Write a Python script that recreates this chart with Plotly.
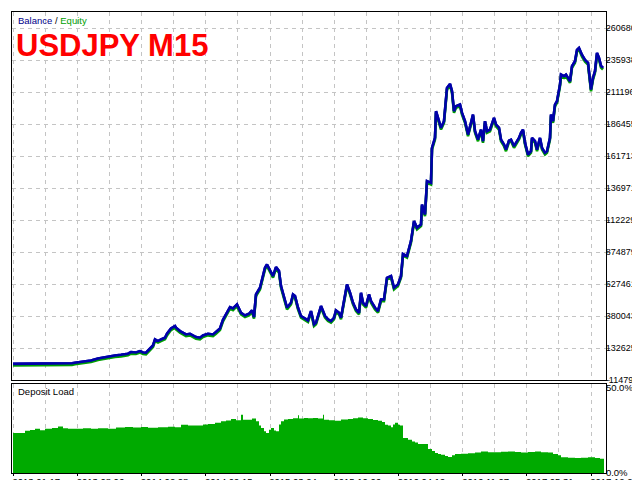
import plotly.graph_objects as go

# ---------------- data ----------------
trade_no = [5, 20, 35, 50, 64, 67, 77, 83, 90, 97, 103, 107, 113, 120, 123, 128, 132, 135, 138, 142,
            145, 147, 150, 153, 157, 159, 163, 167, 168, 172, 175, 178, 182, 185, 188, 192, 195, 200, 205, 208,
            212, 215, 218, 222, 225, 229, 233, 237, 241, 244, 246, 248, 252, 254, 257, 259, 262, 265, 268, 271,
            273, 276, 279, 283, 285, 287, 290, 293, 297, 300, 303, 306, 308, 310, 313, 317, 320, 323, 326, 328,
            331, 333, 336, 339, 342, 345, 348, 351, 353, 355, 358, 361, 363, 367, 370, 373, 376, 379, 383, 386,
            390, 393, 395, 399, 403, 406, 409, 413, 414, 417, 419, 423, 424, 427, 428, 431, 433, 436, 437, 439,
            442, 444, 446, 448, 452, 454, 457, 460, 463, 465, 467, 470, 473, 475, 477, 479, 482, 484, 486, 488,
            491, 493, 496, 498, 501, 503, 506, 508, 511, 513, 515, 517, 520, 523, 524, 527, 529, 532, 534, 537,
            539, 542, 543, 545, 547, 549, 552, 553, 556, 558, 562, 564, 567, 569, 571, 574, 577, 580, 583, 585,
            587, 589, 591, 593, 595]
balance = [10000, 10000, 10500, 11000, 15000, 19000, 26700, 36700, 52200, 63000, 67700, 75400, 80800, 88600,
           101700, 98600, 109400, 98600, 96300, 127200, 152700, 199100, 186700, 199100, 212300, 243200, 284200,
           302700, 289600, 264100, 250900, 237800, 243200, 233100, 217700, 212300, 230100, 243200, 237800, 256300,
           284000, 351000, 392400, 449600, 438800, 469700, 405600, 384700, 397800, 423300, 372300, 547000, 598900,
           663000, 753500, 779000, 728000, 689300, 758900, 728000, 612000, 534700, 444200, 482900, 547000, 534700,
           444200, 380000, 361500, 346000, 418700, 315100, 328200, 387800, 457400, 380000, 353800, 341400, 366900,
           423300, 405600, 366900, 508400, 624400, 560200, 482900, 431100, 405600, 560200, 482900, 457400, 547000,
           496000, 444200, 418700, 508400, 508400, 676200, 689300, 598900, 624400, 689300, 860000, 843900, 960000,
           1114600, 1063000, 1088300, 1243000, 1165600, 1423800, 1410600, 1681200, 1758600, 1965000, 1887700,
           1835900, 1887700, 1965000, 2145200, 2176100, 2119700, 1965000, 2003700, 2016100, 1952000, 1887700,
           1784300, 1874800, 1938600, 1810300, 1745200, 1822700, 1733000, 1887700, 1810300, 1822700, 1874800,
           1913300, 1861400, 1835900, 1745200, 1706800, 1668100, 1737700, 1745200, 1694400, 1720000, 1758600,
           1797300, 1822700, 1720000, 1629600, 1655800, 1758600, 1733000, 1668100, 1758600, 1681200, 1642600,
           1655800, 1758600, 1938600, 1887700, 2016100, 2042400, 2170800, 2248100, 2235600, 2248100, 2197000,
           2313000, 2351600, 2439000, 2454400, 2400300, 2361600, 2338400, 2132100, 2222600, 2274400, 2416200,
           2377500, 2315700, 2300300]
equity = list(balance)

load_trade_no = [5, 12, 17, 22, 27, 32, 37, 44, 50, 55, 60, 67, 75, 83, 90, 100, 108, 117, 125, 133, 140,
                 150, 160, 167, 173, 180, 187, 195, 200, 207, 213, 218, 223, 228, 233, 235, 240, 244, 248, 251,
                 253, 256, 258, 261, 263, 266, 268, 271, 273, 276, 280, 285, 290, 291, 296, 300, 305, 310, 315,
                 316, 321, 327, 333, 340, 345, 350, 355, 360, 365, 370, 374, 377, 380, 383, 385, 387, 390, 392,
                 395, 400, 404, 407, 410, 418, 420, 424, 427, 430, 433, 437, 440, 444, 447, 453, 460, 467, 473,
                 480, 487, 493, 500, 507, 513, 520, 527, 533, 540, 545, 550, 553, 560, 567, 573, 580, 587, 592, 596]
deposit_load = [23.5, 23.5, 24.9, 25.3, 26.0, 25.2, 26.0, 26.5, 27.4, 26.3, 26.0, 26.0, 26.3, 26.0, 26.4,
                26.0, 26.8, 27.0, 26.8, 27.0, 26.6, 26.9, 27.2, 26.9, 28.4, 28.0, 28.0, 28.5, 28.8, 29.5,
                30.4, 30.9, 31.8, 31.0, 34.3, 31.4, 31.4, 32.0, 30.4, 28.0, 26.5, 24.5, 23.5, 25.5, 26.5,
                25.0, 24.5, 28.5, 30.4, 31.5, 31.8, 32.2, 34.0, 32.0, 32.4, 32.2, 32.4, 32.0, 34.3, 31.4,
                31.0, 30.8, 31.5, 31.8, 32.2, 32.7, 32.2, 31.8, 31.2, 30.8, 30.0, 28.4, 28.0, 26.9, 28.5,
                29.5, 28.4, 28.0, 20.6, 19.6, 18.6, 18.0, 17.1, 17.1, 14.1, 13.0, 11.8, 11.2, 10.8, 10.0,
                9.4, 10.5, 11.2, 11.4, 11.6, 12.0, 12.7, 12.2, 12.2, 12.5, 12.7, 12.3, 12.0, 12.4, 12.7,
                12.2, 12.0, 11.2, 10.4, 9.2, 9.0, 8.8, 9.0, 9.2, 8.8, 8.4, 8.4]

date_trade_no = [5.2, 69.4, 133.6, 197.8, 262.0, 326.2, 390.4, 454.6, 518.8, 583.0]
date_labels = ["2013.01.17", "2013.08.06", "2014.02.28", "2014.09.15", "2015.03.24",
               "2015.10.06", "2016.04.19", "2016.11.07", "2017.05.31", "2017.12.27"]
balance_ticks = [-114793, 132625, 380043, 627461, 874879, 1122297, 1369715,
                 1617133, 1864551, 2111969, 2359387, 2606805]
load_ticks = [0, 50]
load_tick_labels = ["0.0%", "50.0%"]

# ---------------- style ----------------
BLUE = "#0000AA"
GREEN = "#00A000"
FILL = "#00AA00"
GRID = "#C4C4C4"
FONT = "Liberation Sans"

y_min, y_max = -114793, 2732800
px_per_val = 32 / 247418.0
eq_shift = 1.6 / px_per_val

fig = go.Figure()
# base balance trace (anchors the main subplot)
fig.add_trace(go.Scatter(x=trade_no, y=balance, mode="lines", line=dict(color=BLUE, width=2.6),
                         xaxis="x", yaxis="y", hoverinfo="skip"))
# equity drawn slightly below the balance line
fig.add_trace(go.Scatter(x=trade_no, y=equity, mode="lines", line=dict(color=GREEN, width=2.6),
                         xaxis="x", yaxis="y3", hoverinfo="skip"))
# balance on top
fig.add_trace(go.Scatter(x=trade_no, y=balance, mode="lines", line=dict(color=BLUE, width=2.6),
                         xaxis="x", yaxis="y4"))
fig.add_trace(go.Scatter(x=load_trade_no, y=deposit_load, mode="lines", line=dict(color=FILL, width=0, shape="hv"),
                         fill="tozeroy", fillcolor=FILL, xaxis="x2", yaxis="y2"))

xcommon = dict(range=[4, 598], showline=True, linecolor="black", linewidth=1, mirror=True,
               tickmode="array", tickvals=date_trade_no, showgrid=True, gridcolor=GRID,
               griddash="4px,4px", gridwidth=1, zeroline=False, automargin=False,
               minor=dict(tick0=37.3, dtick=64.2, showgrid=True, gridcolor=GRID,
                          griddash="4px,4px", gridwidth=1))

fig.update_layout(
    width=640, height=480,
    margin=dict(l=4, r=42, t=4, b=15),
    paper_bgcolor="white", plot_bgcolor="white",
    showlegend=False,
    font=dict(family=FONT, size=9, color="black"),
    xaxis=dict(**xcommon, anchor="y", showticklabels=False, ticks=""),
    yaxis=dict(domain=[0.2017, 1], range=[y_min, y_max], side="right", anchor="x", automargin=False,
               showline=True, linecolor="black", linewidth=1, mirror=True,
               tickmode="array", tickvals=balance_ticks, ticktext=[str(v) for v in balance_ticks],
               ticks="outside", ticklen=3, tickcolor="#909090", ticklabelstandoff=-6,
               tickfont=dict(family=FONT, size=9),
               showgrid=True, gridcolor=GRID, griddash="4px,4px", zeroline=False),
    yaxis3=dict(overlaying="y", range=[y_min + eq_shift, y_max + eq_shift], visible=False, automargin=False),
    yaxis4=dict(overlaying="y", range=[y_min, y_max], visible=False, automargin=False),
    xaxis2=dict(**xcommon, anchor="y2", ticktext=date_labels, ticks="outside", ticklen=2,
                tickcolor="black", ticklabelshift=23, ticklabelstandoff=-2,
                tickfont=dict(family=FONT, size=9.5)),
    yaxis2=dict(domain=[0, 0.193], range=[0, 52.35], side="right", anchor="x2", automargin=False,
                showline=True, linecolor="black", linewidth=1, mirror=True,
                tickmode="array", tickvals=load_ticks, ticktext=load_tick_labels,
                ticks="outside", ticklen=3, tickcolor="white", ticklabelstandoff=-6,
                tickfont=dict(family=FONT, size=9.5),
                showgrid=False, zeroline=False),
)

fig.add_annotation(x=8, y=12, xref="paper", yref="paper", showarrow=False, xanchor="left", yanchor="middle",
                   text="<span style='color:#00008B'>Balance</span> / <span style='color:#00A000'>Equity</span>",
                   font=dict(family=FONT, size=9.5))
fig.add_annotation(x=8, y=383, xref="paper", yref="paper", showarrow=False, xanchor="left", yanchor="middle",
                   text="Deposit Load", font=dict(family=FONT, size=9.5, color="black"))
fig.add_annotation(x=6, y=37, xref="paper", yref="paper", showarrow=False, xanchor="left", yanchor="middle",
                   text="<b>USDJPY M15</b>", font=dict(family="Liberation Sans", size=31, color="#FF0000"))

# convert pixel-placed annotations into paper coords
W, H = 640, 480
for a in fig.layout.annotations:
    px, py = a.x, a.y
    a.x = (px - 4) / (W - 4 - 42)
    a.y = 1 - (py - 4) / (H - 4 - 15)

fig.write_html("out.html")
